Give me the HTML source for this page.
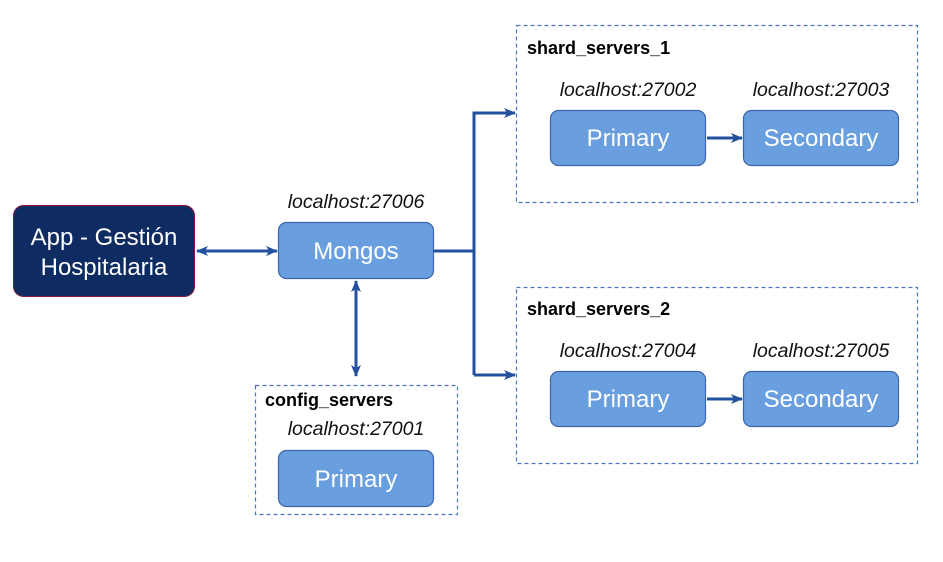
<!DOCTYPE html>
<html><head><meta charset="utf-8"><style>
body{margin:0;background:#fff;width:943px;height:557px;overflow:hidden;font-family:"Liberation Sans",sans-serif}
</style></head><body>
<svg width="943" height="557" xmlns="http://www.w3.org/2000/svg" font-family="Liberation Sans, sans-serif">
<defs><marker id="a" markerWidth="12" markerHeight="10" refX="11" refY="5" orient="auto-start-reverse" markerUnits="userSpaceOnUse"><path d="M0,0 L12,5 L0,10 L3,5 z" fill="#2450a0"/></marker></defs>
<g fill="none" stroke="#4a78c0" stroke-width="1.2" stroke-dasharray="4,3">
<rect x="516.5" y="25.5" width="401" height="177"/>
<rect x="516.5" y="287.5" width="401" height="176"/>
<rect x="255.5" y="385.5" width="202" height="129"/>
</g>
<g stroke="#2450a0" stroke-width="3" fill="none">
<line x1="197" y1="251" x2="277" y2="251" marker-start="url(#a)" marker-end="url(#a)"/>
<line x1="356" y1="281" x2="356" y2="376" marker-start="url(#a)" marker-end="url(#a)"/>
<polyline points="434,251 474,251"/>
<polyline points="474,375 474,113 515,113" marker-end="url(#a)"/>
<polyline points="474,375 515,375" marker-end="url(#a)"/>
<line x1="707" y1="138" x2="742" y2="138" marker-end="url(#a)"/>
<line x1="707" y1="399" x2="742" y2="399" marker-end="url(#a)"/>
</g>
<rect x="13.5" y="205.5" width="181" height="91" rx="10" fill="#0f2c62" stroke="#8a1740" stroke-width="1"/>
<text x="104" y="245" font-size="24" fill="#fff" text-anchor="middle">App - Gestión</text>
<text x="104" y="275" font-size="24" fill="#fff" text-anchor="middle">Hospitalaria</text>
<g fill="#6a9fdf" stroke="#3a66a8" stroke-width="1.2">
<rect x="278.5" y="222.5" width="155" height="56" rx="8"/>
<rect x="278.5" y="450.5" width="155" height="56" rx="8"/>
<rect x="550.5" y="110.5" width="155" height="55" rx="8"/>
<rect x="743.5" y="110.5" width="155" height="55" rx="8"/>
<rect x="550.5" y="371.5" width="155" height="55" rx="8"/>
<rect x="743.5" y="371.5" width="155" height="55" rx="8"/>
</g>
<g fill="#fff" font-size="24" text-anchor="middle">
<text x="356" y="259">Mongos</text>
<text x="356" y="487">Primary</text>
<text x="628" y="146">Primary</text>
<text x="821" y="146">Secondary</text>
<text x="628" y="407">Primary</text>
<text x="821" y="407">Secondary</text>
</g>
<g fill="#111" font-size="19.5" font-style="italic" text-anchor="middle">
<text x="356" y="208">localhost:27006</text>
<text x="356" y="435">localhost:27001</text>
<text x="628" y="96">localhost:27002</text>
<text x="821" y="96">localhost:27003</text>
<text x="628" y="357">localhost:27004</text>
<text x="821" y="357">localhost:27005</text>
</g>
<g fill="#000" font-size="18" font-weight="bold">
<text x="527" y="54">shard_servers_1</text>
<text x="527" y="315">shard_servers_2</text>
<text x="265" y="406">config_servers</text>
</g>
</svg>
</body></html>
